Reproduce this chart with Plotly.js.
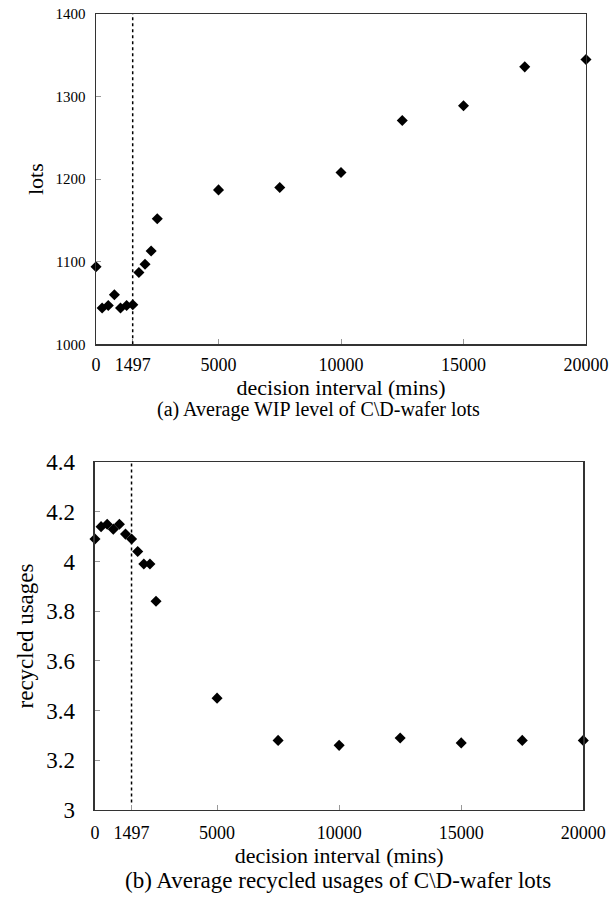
<!DOCTYPE html>
<html><head><meta charset="utf-8">
<script src="https://cdn.plot.ly/plotly-3.0.1.min.js"></script>
<style>html,body{margin:0;padding:0;background:#fff}#chart{width:612px;height:898px}</style>
</head><body><div id="chart"></div>
<script>
const decisionInterval = [0,250,500,750,1000,1250,1500,1750,2000,2250,2500,5000,7500,10000,12500,15000,17500,20000];
const wipLots = [1094,1044,1047,1060,1044,1047,1048,1087,1097,1113,1152,1187,1190,1208,1271,1289,1336,1345];
const recycledUsages = [4.09,4.14,4.15,4.13,4.15,4.11,4.09,4.04,3.99,3.99,3.84,3.45,3.28,3.26,3.29,3.27,3.28,3.28];
const xTickVals = [0,1497,5000,10000,15000,20000];
const xTickText = ['0','1497','5000','10000','15000','20000'];
const wipTickVals = [1000,1100,1200,1300,1400];
const recycledTickVals = [3,3.2,3.4,3.6,3.8,4,4.2,4.4];
const recycledTickText = ['3','3.2','3.4','3.6','3.8','4','4.2','4.4'];
const divider = 1497;

const serif = "'Liberation Serif', 'Times New Roman', serif";
const marker = {symbol:'diamond', size:8.5, color:'#000'};

const traces = [
  {x:decisionInterval, y:wipLots, type:'scatter', mode:'markers', marker:marker, cliponaxis:false, xaxis:'x', yaxis:'y', showlegend:false},
  {x:decisionInterval, y:recycledUsages, type:'scatter', mode:'markers', marker:marker, cliponaxis:false, xaxis:'x2', yaxis:'y2', showlegend:false}
];

const axisCommon = {showline:true, mirror:true, linecolor:'#333', linewidth:1.5, ticks:'inside', ticklen:5, tickcolor:'#999', showgrid:false, zeroline:false};

const layout = {
  width:612, height:898, autosize:false,
  margin:{l:0,r:0,t:0,b:0},
  paper_bgcolor:'#fff', plot_bgcolor:'#fff',
  font:{family:serif, color:'#000'},
  xaxis: Object.assign({}, axisCommon, {domain:[0.1569,0.9575], range:[0,20000], anchor:'y', tickvals:xTickVals, ticktext:xTickText, tickfont:{size:18}, ticklabelstandoff:4,
    title:{text:'decision interval (mins)', font:{size:22}, standoff:0}}),
  yaxis: Object.assign({}, axisCommon, {domain:[0.6166,0.9844], range:[1000,1400], anchor:'x', tickvals:wipTickVals, tickfont:{size:15}, ticklabelstandoff:6,
    title:{text:'lots', font:{size:22}, standoff:6}}),
  xaxis2: Object.assign({}, axisCommon, {domain:[0.1552,0.9531], range:[0,20000], anchor:'y2', tickvals:xTickVals, ticktext:xTickText, tickfont:{size:18}, ticklabelstandoff:6,
    title:{text:'decision interval (mins)', font:{size:22}, standoff:0}}),
  yaxis2: Object.assign({}, axisCommon, {domain:[0.098,0.4855], range:[3,4.4], anchor:'x2', tickvals:recycledTickVals, ticktext:recycledTickText, tickfont:{size:23}, ticklabelstandoff:14,
    title:{text:'recycled usages', font:{size:23}, standoff:6}}),
  shapes:[
    {type:'line', xref:'x', yref:'y', x0:divider, x1:divider, y0:1000, y1:1400, line:{dash:'dot', width:1.5, color:'#000'}},
    {type:'line', xref:'x2', yref:'y2', x0:divider, x1:divider, y0:3.03, y1:4.4, line:{dash:'dot', width:1.5, color:'#000'}}
  ],
  annotations:[
    {xref:'paper', yref:'paper', x:0.521, y:0.5435, text:'(a) Average WIP level of C\\D-wafer lots', showarrow:false, font:{size:20}, xanchor:'center', yanchor:'middle'},
    {xref:'paper', yref:'paper', x:0.552, y:0.02, text:'(b) Average recycled usages of C\\D-wafer lots', showarrow:false, font:{size:23}, xanchor:'center', yanchor:'middle'}
  ]
};

Plotly.newPlot('chart', traces, layout, {displayModeBar:false, staticPlot:true});
</script>
</body></html>
